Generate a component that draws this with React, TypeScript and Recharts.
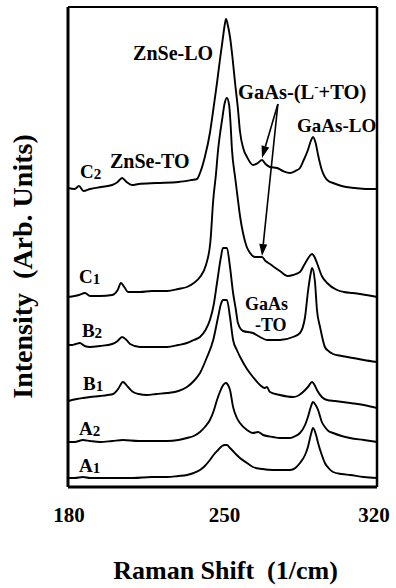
import React from 'react';
import { LineChart, Line, XAxis, YAxis, ReferenceDot, ReferenceLine } from 'recharts';

type P = [number, number];

// Raman shift (1/cm) vs stacked intensity (arb. units)
const SHIFT_DOMAIN: [number, number] = [180, 320];
const SHIFT_LABEL_TICKS = [180, 250, 320];
const SHIFT_MINOR_TICKS = [215, 250, 285];
const INTENSITY_DOMAIN: [number, number] = [0, 480];
const INTENSITY_TICKS = [160, 320];

const A1: P[] = [
  [180, 9], [183, 9], [186.8, 10], [190, 9], [194.5, 9], [200, 9], [209.5, 9], [218, 10], [224.9, 10],
  [230, 11], [233.9, 12], [237, 14], [239.8, 17], [242, 21], [244.3, 27], [246.3, 33], [248, 37],
  [249.8, 41], [251, 42], [252, 42], [253.4, 39], [254.3, 37], [256, 33], [257.9, 29], [261.1, 24],
  [263.8, 20], [268, 18], [272.9, 17], [276, 17], [280.6, 17], [283, 19], [285.1, 24], [287.4, 32],
  [288.7, 40], [290.1, 53], [291, 59], [292.4, 52], [293.3, 44], [295, 32], [296.4, 24], [298, 19],
  [300.1, 15], [304, 13], [307.8, 12], [314, 10], [320, 9],
];

const A2: P[] = [
  [180, 45], [183, 45], [186.8, 47], [190, 46], [194.5, 45], [200, 46], [204.9, 47], [212, 46],
  [224.9, 46], [230, 47], [233.9, 49], [237, 51], [239.8, 55], [242, 60], [244.3, 67], [246, 76],
  [247.5, 87], [249, 96], [249.8, 100], [251.6, 104], [252.5, 102], [253.4, 97], [254.8, 80],
  [256.3, 70], [257.9, 64], [261.1, 57], [263.8, 54], [266.1, 55], [268.4, 52], [272.9, 50],
  [276, 49], [280.6, 49], [283, 51], [285.1, 54], [287.4, 62], [288.7, 70], [290, 80], [291, 85],
  [292.2, 82], [293.3, 77], [295, 65], [296.4, 60], [298, 56], [300.1, 54], [304, 51],
  [307.8, 49], [314, 47], [320, 45],
];

const B1: P[] = [
  [180, 86], [181.8, 87], [184, 88], [186.8, 89], [190, 90], [194.5, 91], [198, 92], [200.4, 93],
  [202.7, 98], [204.9, 105], [207.2, 100], [209.5, 95], [212, 93], [215.8, 92], [220, 93], [224.9, 94],
  [230, 96], [233.9, 100], [237, 106], [239.8, 114], [243, 130], [245.8, 147], [248, 170],
  [249.3, 183], [250.2, 187], [252, 187], [253.4, 170], [254.8, 147], [256.5, 137], [258, 130],
  [261.1, 118], [263.8, 110], [267, 102], [269.2, 99], [270.1, 100], [271.5, 95], [276, 92],
  [281.9, 90], [284, 91], [286.5, 95], [288.7, 100], [290.6, 105], [291.7, 102], [292.8, 97],
  [295, 90], [297.4, 87], [301, 86], [307.8, 84], [314, 82], [320, 79],
];

const B2: P[] = [
  [180, 142], [181.8, 142], [183.5, 143], [185.4, 144], [187.5, 141], [190, 140], [194.5, 141],
  [200, 143], [202.5, 146], [204.5, 150], [206.5, 147], [208.1, 143], [212.6, 140], [218, 140],
  [224.9, 140], [230, 142], [233.9, 144], [237, 147], [239.8, 150], [242.3, 157], [244.3, 167],
  [246, 182], [247.5, 204], [249.3, 230], [250.2, 239], [252, 239], [253.4, 220], [254.8, 194],
  [256, 178], [257, 164], [259.3, 156], [263.8, 154], [267, 150], [270.2, 147], [276, 147],
  [281.9, 150], [285.1, 154], [287.4, 170], [288.7, 195], [290, 214], [290.6, 219], [291.9, 205],
  [292.8, 177], [294.2, 160], [296.4, 140], [298, 136], [300.1, 133], [304, 131], [309.1, 129],
  [314, 127], [320, 125],
];

const C1: P[] = [
  [180, 190], [183, 191], [185, 192], [187.7, 194], [190, 191], [194.5, 191], [200, 192],
  [202.5, 197], [204, 204], [205.5, 200], [207.2, 195], [212.6, 195], [218, 196], [224.9, 196],
  [230, 198], [233.9, 200], [237, 204], [239.8, 210], [242.5, 222], [244.5, 245], [245.8, 287],
  [247, 312], [248, 337], [249, 355], [249.8, 367], [251, 384], [252, 389], [253, 382],
  [253.6, 365], [254.3, 337], [255.7, 310], [257, 287], [258, 270], [259.3, 254], [261, 240],
  [262.5, 234], [264.7, 230], [266.5, 230], [267.9, 230], [269.5, 226], [271.5, 223], [274, 219],
  [276, 216], [279.6, 211], [282, 212], [285.1, 215], [287, 222], [288.3, 227], [289.5, 231],
  [290.6, 233], [291.7, 230], [292.8, 224], [295, 211], [297.4, 204], [301.9, 197], [305, 195],
  [309.1, 194], [315, 192], [320, 190],
];

const C2: P[] = [
  [180, 299], [183, 298], [185, 301], [187, 296], [190, 298], [195, 300], [200, 302],
  [202.5, 305], [204.5, 309], [206.5, 305], [209, 302], [212, 303], [220, 304], [230, 305],
  [236, 307], [238.4, 308], [239.8, 314], [242, 330], [244.3, 354], [246, 380], [247.5, 404],
  [249, 430], [250, 446], [251, 462], [251.6, 468], [252.4, 462], [253.4, 450], [254.5, 430],
  [255.7, 404], [257, 378], [257.9, 356], [259.5, 338], [261.1, 330], [263.8, 322], [266, 324],
  [267.9, 327], [269.5, 323], [271.5, 320], [274.7, 319], [277.4, 316], [280.6, 314], [283, 316],
  [285.1, 319], [287, 328], [288.7, 337], [290, 346], [291, 350], [292.2, 344], [293.3, 332],
  [295, 317], [296.4, 310], [298, 306], [300.1, 304], [304, 301], [310, 299], [315, 298],
  [320, 298],
];

const SPECTRA: { name: string; sub: string; points: P[] }[] = [
  { name: 'A', sub: '1', points: A1 },
  { name: 'A', sub: '2', points: A2 },
  { name: 'B', sub: '1', points: B1 },
  { name: 'B', sub: '2', points: B2 },
  { name: 'C', sub: '1', points: C1 },
  { name: 'C', sub: '2', points: C2 },
];

// label anchors (shift, intensity) for the spectrum names, same order as SPECTRA
const NAME_ANCHORS: P[] = [
  [185.0, 15], [185.0, 52], [186.8, 97], [186.3, 150], [185.0, 204], [185.4, 309],
];

const PEAK_TEXTS: { text: string; at: P; size: number }[] = [
  { text: 'ZnSe-LO', at: [209.5, 427], size: 20 },
  { text: 'ZnSe-TO', at: [199.0, 319], size: 20 },
  { text: 'GaAs-LO', at: [283.8, 355], size: 19 },
  { text: 'GaAs', at: [260.2, 177], size: 18 },
  { text: '-TO', at: [264.7, 156], size: 18 },
];
const MIXED_MODE_AT: P = [257.0, 388];

const ARROW_FROM: P = [275.1, 383];
const ARROW_TIPS: P[] = [[267.9, 329], [267.9, 231]];

const FONT = "'Liberation Serif', 'Times New Roman', Times, serif";

const rows = (pts: P[]) => pts.map(([x, y]) => ({ x, y }));

const XTick = (props: any) => {
  const { x, y, payload } = props;
  const v = payload.value;
  const dx = v === 320 ? -3 : v === 250 ? 2 : 1;
  return (
    <text x={x + dx} y={y} dy={33} textAnchor="middle" fontFamily={FONT} fontWeight="bold" fontSize={21} fill="#000">
      {v}
    </text>
  );
};

const XTitle = (props: any) => {
  const vb = props.viewBox || { x: 68, y: 487, width: 309, height: 30 };
  return (
    <text x={vb.x + vb.width / 2 + 3} y={vb.y + 92} textAnchor="middle" fontFamily={FONT} fontWeight="bold" fontSize={26} fill="#000">
      {'Raman Shift\u00a0\u00a0(1/cm)'}
    </text>
  );
};

const YTitle = (props: any) => {
  const vb = props.viewBox || { x: 68, y: 7, width: 60, height: 480 };
  const cx = vb.x - 36;
  const cy = vb.y + vb.height / 2 + 19.5;
  return (
    <text x={cx} y={cy} transform={`rotate(-90, ${cx}, ${cy})`} textAnchor="middle" fontFamily={FONT} fontWeight="bold" fontSize={28} fill="#000">
      {'Intensity\u00a0\u00a0(Arb. Units)'}
    </text>
  );
};

const textShape = (content: React.ReactNode, size = 20) => (p: any) => (
  <text x={p.cx} y={p.cy} fontFamily={FONT} fontWeight="bold" fontSize={size} fill="#000">
    {content}
  </text>
);

const arrowShape = (p: any) => {
  const { x1, y1, x2, y2 } = p;
  const dx = x2 - x1;
  const dy = y2 - y1;
  const len = Math.sqrt(dx * dx + dy * dy) || 1;
  const ux = dx / len;
  const uy = dy / len;
  const headL = 12;
  const headW = 4;
  const bx = x2 - ux * headL;
  const by = y2 - uy * headL;
  const pts = `${x2},${y2} ${bx - uy * headW},${by + ux * headW} ${bx + uy * headW},${by - ux * headW}`;
  return (
    <g>
      <line x1={x1} y1={y1} x2={bx} y2={by} stroke="#000" strokeWidth={1.6} />
      <polygon points={pts} fill="#000" />
    </g>
  );
};

export default function App() {
  return (
    <div style={{ position: 'absolute', left: 0, top: 0, width: 396, height: 588, background: '#fff' }}>
      <LineChart width={396} height={588} margin={{ top: 7, right: 19, bottom: 71, left: 68 }}>
        <XAxis
          xAxisId="b"
          dataKey="x"
          type="number"
          domain={SHIFT_DOMAIN}
          allowDataOverflow
          ticks={SHIFT_LABEL_TICKS}
          interval={0}
          orientation="bottom"
          height={30}
          tickSize={0}
          tickLine={false}
          axisLine={{ stroke: '#000', strokeWidth: 3 }}
          tick={<XTick />}
          label={XTitle}
        />
        <XAxis
          xAxisId="bm"
          type="number"
          domain={SHIFT_DOMAIN}
          allowDataOverflow
          ticks={SHIFT_MINOR_TICKS}
          interval={0}
          orientation="bottom"
          mirror
          axisLine={false}
          tick={false}
          tickSize={7}
          tickLine={{ stroke: '#000', strokeWidth: 2 }}
        />
        <XAxis
          xAxisId="t"
          type="number"
          domain={SHIFT_DOMAIN}
          allowDataOverflow
          orientation="top"
          mirror
          tick={false}
          tickLine={false}
          axisLine={{ stroke: '#000', strokeWidth: 2 }}
        />
        <YAxis
          yAxisId="l"
          type="number"
          domain={INTENSITY_DOMAIN}
          allowDataOverflow
          ticks={INTENSITY_TICKS}
          interval={0}
          mirror
          tick={false}
          tickSize={4}
          tickLine={{ stroke: '#000', strokeWidth: 1 }}
          axisLine={{ stroke: '#000', strokeWidth: 3 }}
          label={YTitle}
        />
        <YAxis
          yAxisId="r"
          type="number"
          orientation="right"
          domain={INTENSITY_DOMAIN}
          allowDataOverflow
          ticks={INTENSITY_TICKS}
          interval={0}
          mirror
          tick={false}
          tickSize={4}
          tickLine={{ stroke: '#000', strokeWidth: 1 }}
          axisLine={{ stroke: '#000', strokeWidth: 2.5 }}
        />
        {SPECTRA.map((s) => (
          <Line
            key={s.name + s.sub}
            data={rows(s.points)}
            xAxisId="b"
            yAxisId="l"
            dataKey="y"
            type="monotone"
            stroke="#000"
            strokeWidth={1.9}
            dot={false}
            activeDot={false}
            isAnimationActive={false}
          />
        ))}
        {SPECTRA.map((s, i) => (
          <ReferenceDot
            key={'n' + s.name + s.sub}
            xAxisId="b"
            yAxisId="l"
            x={NAME_ANCHORS[i][0]}
            y={NAME_ANCHORS[i][1]}
            r={0}
            ifOverflow="visible"
            shape={textShape(
              <>
                <tspan>{s.name}</tspan>
                <tspan fontSize={15} dy={1}>{s.sub}</tspan>
              </>,
              19,
            )}
          />
        ))}
        {PEAK_TEXTS.map((t) => (
          <ReferenceDot
            key={t.text}
            xAxisId="b"
            yAxisId="l"
            x={t.at[0]}
            y={t.at[1]}
            r={0}
            ifOverflow="visible"
            shape={textShape(t.text, t.size)}
          />
        ))}
        <ReferenceDot
          xAxisId="b"
          yAxisId="l"
          x={MIXED_MODE_AT[0]}
          y={MIXED_MODE_AT[1]}
          r={0}
          ifOverflow="visible"
          shape={textShape(
            <>
              <tspan>GaAs-(L</tspan>
              <tspan fontSize={13} dy={-8}>-</tspan>
              <tspan dy={8}>+TO)</tspan>
            </>,
            20.5,
          )}
        />
        {ARROW_TIPS.map((tip, i) => (
          <ReferenceLine
            key={'a' + i}
            xAxisId="b"
            yAxisId="l"
            ifOverflow="visible"
            segment={[
              { x: ARROW_FROM[0], y: ARROW_FROM[1] },
              { x: tip[0], y: tip[1] },
            ]}
            shape={arrowShape}
          />
        ))}
      </LineChart>
    </div>
  );
}
